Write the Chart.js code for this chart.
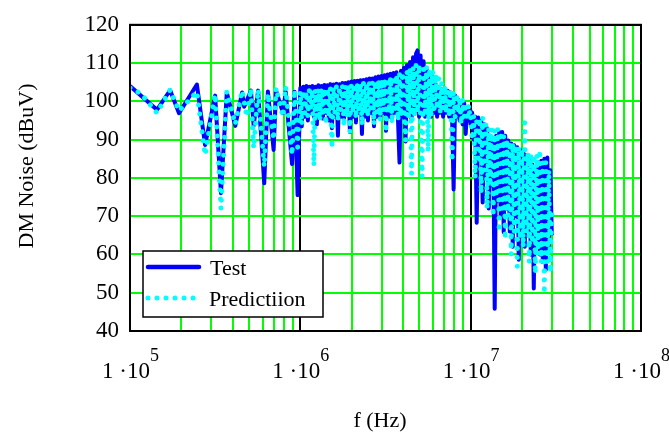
<!DOCTYPE html>
<html>
<head>
<meta charset="utf-8">
<script src="https://cdn.jsdelivr.net/npm/chart.js@4.4.1/dist/chart.umd.min.js"></script>
<style>
  html, body { margin: 0; padding: 0; background: #fff; }
  canvas { display: block; }
</style>
</head>
<body>
<canvas id="chart" width="669" height="435"></canvas>
<script>
// Frequencies in MHz, levels in dBuV
const testLowFreq = [
  0.100, 0.144, 0.172, 0.194, 0.247, 0.276, 0.316, 0.342, 0.370, 0.415, 0.455, 0.468,
  0.513, 0.532, 0.565, 0.614, 0.645, 0.697, 0.720, 0.791, 0.820, 0.894, 0.925, 0.964
];
const testLowLevel = [
  104, 97.8, 102.9, 96.9, 104.4, 88.6, 101.5, 76, 102.3, 93.6, 102.3, 98.6,
  102.8, 93.6, 102.8, 78.6, 102.6, 87.3, 102.8, 97, 102.5, 83.6, 102.5, 75.5
];
const predLowFreq = [
  0.100, 0.116, 0.144, 0.172, 0.194, 0.247, 0.276, 0.316, 0.342, 0.370, 0.415, 0.455,
  0.485, 0.513, 0.532, 0.565, 0.614, 0.645, 0.697, 0.720, 0.791, 0.820, 0.894, 0.925, 0.964
];
const predLowLevel = [
  103.5, 102, 97, 103, 97.5, 102.5, 86, 101.8, 72, 102.5, 94, 102.8,
  96, 103.3, 87.8, 103, 83, 102, 90, 103.5, 96, 103.8, 86, 103, 88
];

// dense part of the spectrum, 1 - 10 MHz
const midFreq = [
  1.000, 1.020, 1.041, 1.062, 1.085, 1.107, 1.130, 1.153, 1.176, 1.201, 1.225, 1.250,
  1.276, 1.302, 1.329, 1.356, 1.384, 1.412, 1.441, 1.471, 1.501, 1.532, 1.563, 1.595,
  1.628, 1.662, 1.696, 1.730, 1.766, 1.802, 1.839, 1.877, 1.916, 1.955, 1.995, 2.036,
  2.078, 2.121, 2.164, 2.209, 2.254, 2.300, 2.347, 2.396, 2.445, 2.495, 2.546, 2.599,
  2.652, 2.707, 2.762, 2.819, 2.876, 2.936, 2.996, 3.058, 3.120, 3.184, 3.249, 3.316,
  3.384, 3.454, 3.524, 3.597, 3.670, 3.746, 3.823, 3.901, 3.981, 4.063, 4.146, 4.231,
  4.318, 4.407, 4.497, 4.590, 4.684, 4.780, 4.878, 4.979, 5.081, 5.185, 5.291, 5.400,
  5.511, 5.624, 5.739, 5.857, 5.977, 6.100, 6.226, 6.353, 6.484, 6.617, 6.752, 6.891,
  7.032, 7.177, 7.324, 7.475, 7.628, 7.785, 7.943, 8.108, 8.273, 8.444, 8.616, 8.794,
  8.973, 9.159, 9.347, 9.539, 9.733, 9.934
];
const testMidLevel = [
  103.5, 93.5, 103.8, 96, 104, 95, 103.8, 97, 104, 96, 103.8, 94,
  104.2, 96.5, 104, 95.5, 104.3, 97, 104.2, 95, 104.5, 93, 104.4, 96,
  104.6, 91, 104.5, 96, 104.8, 95, 104.8, 97, 105, 92, 105.2, 96,
  105.3, 94.5, 105.4, 97, 105.5, 91.5, 105.6, 96, 105.8, 95, 106, 97,
  106, 93.5, 106.3, 96, 106.5, 96, 106.6, 97, 106.8, 92.3, 107, 96,
  107.2, 95, 107.4, 97, 107.6, 95, 84, 108, 96, 108.8, 89.5, 109.5,
  97, 110.3, 95, 111.5, 97, 112.5, 113.3, 96, 112, 97, 110.5, 96,
  108.5, 97, 107, 96, 105.5, 97, 104.5, 96, 103.5, 97, 103.2, 96,
  103, 97, 102.8, 96, 102.3, 95, 77, 101.5, 96, 100.5, 95, 100,
  94, 99.5, 91.5, 98.5, 95, 97.5
];
const predMidLevel = [
  102.5, 94, 102.8, 97, 102.5, 96, 103, 98, 103, 83.2, 103, 96,
  103.2, 95, 103.3, 97, 103.3, 94, 103.4, 96, 103.5, 87.8, 103.6, 97,
  103.8, 95, 103.8, 97.5, 104, 93.5, 104, 96, 104.2, 92, 104.4, 97,
  104.5, 95.5, 104.6, 97, 104.6, 93.8, 104.8, 97, 104.8, 96, 105, 98,
  105, 94, 105.3, 97, 105.5, 95, 105.6, 97.5, 105.8, 92, 106, 97,
  106.2, 94.3, 106.5, 97, 106.8, 95, 107.2, 96, 107.5, 97, 89.8, 108,
  96, 108.5, 81, 109, 96, 109.5, 97, 109.5, 95, 80.3, 109.5, 97,
  109, 87, 108.5, 96, 108, 97, 107, 98, 106, 97, 105, 98,
  104, 97, 103.5, 96, 103, 84.4, 102.5, 96, 102, 97, 101, 94,
  100.5, 96, 99.5, 95, 99, 95.5
];

// 10 - 30 MHz
const highFreq = [
  10.00, 10.20, 10.41, 10.63, 10.85, 11.07, 11.30, 11.53, 11.76, 12.01, 12.25, 12.50,
  12.76, 13.02, 13.29, 13.56, 13.84, 14.12, 14.41, 14.71, 15.01, 15.32, 15.63, 15.95,
  16.28, 16.62, 16.96, 17.31, 17.66, 18.03, 18.39, 18.77, 19.16, 19.55, 19.95, 20.36,
  20.78, 21.20, 21.64, 22.08, 22.54, 23.00, 23.47, 23.96, 24.45, 24.95, 25.46, 25.99,
  26.52, 27.07, 27.62, 28.19, 28.76, 29.36, 29.96
];
const testHighLevel = [
  94, 97, 90, 96, 68.3, 95.8, 85, 95, 73.6, 94, 80, 93,
  72, 91, 78, 90, 45.8, 91, 74, 92, 70, 92, 65.8, 91,
  72, 89.8, 66, 89, 62, 88.5, 70, 88, 58.6, 87.3, 66, 87,
  62, 86, 68, 85, 60, 83.5, 51.1, 82.8, 64, 84, 60, 84.5,
  58, 85, 56, 85.3, 62, 82, 65
];
const predHighLevel = [
  96, 90, 96, 80, 95.8, 84, 95.5, 76, 95.8, 82, 95, 72,
  93, 78, 92.8, 70, 92.5, 75, 92.8, 66, 92, 72, 91, 64,
  90, 70, 89.5, 60, 89, 66, 88.5, 56.9, 88, 64, 87.5, 62,
  94.4, 66, 86.5, 58, 86, 63, 85, 55, 86, 60, 87.3, 58,
  84, 49.8, 84, 58, 82, 55.3, 72
];

const seriesNames = ["Test", "Predictiion"];
const xDecades = [1e5, 1e6, 1e7, 1e8];
const xDecadeExp = ["5", "6", "7", "8"];
const xGridSteps = [1, 2, 3, 4, 5, 6, 7, 8, 9];
const yMin = 40, yMax = 120, yStep = 10;

const SERIF = "'Liberation Serif', 'Times New Roman', serif";
const GREEN = "#00ff00";

function toPoints(freqs, levels) {
  return freqs.map((f, i) => ({ x: f * 1e6, y: levels[i] }));
}

function isDecade(v) {
  const l = Math.log10(v);
  return Math.abs(l - Math.round(l)) < 1e-6;
}

// Frame, legend, axis titles and the 1·10^n labels
const decoration = {
  id: "decoration",
  afterDatasetsDraw(chart) {
    const { ctx, chartArea: a } = chart;
    ctx.save();
    ctx.strokeStyle = "#000";
    ctx.lineWidth = 2;
    ctx.strokeRect(a.left, a.top, a.right - a.left, a.bottom - a.top);

    // Legend box
    ctx.fillStyle = "#fff";
    ctx.fillRect(143, 251, 180, 66);
    ctx.lineWidth = 1.5;
    ctx.strokeRect(143, 251, 180, 66);

    const ds = chart.data.datasets;
    ctx.lineCap = "round";
    ctx.strokeStyle = ds[0].borderColor;
    ctx.lineWidth = 4.5;
    ctx.beginPath(); ctx.moveTo(148, 267); ctx.lineTo(199, 267); ctx.stroke();

    ctx.strokeStyle = ds[1].borderColor;
    ctx.lineWidth = 5;
    ctx.setLineDash([0.01, 9]);
    ctx.beginPath(); ctx.moveTo(148, 298); ctx.lineTo(200, 298); ctx.stroke();
    ctx.setLineDash([]);

    ctx.fillStyle = "#000";
    ctx.font = "22px " + SERIF;
    ctx.textAlign = "left";
    ctx.textBaseline = "alphabetic";
    ctx.fillText(ds[0].label, 210, 275);
    ctx.fillText(ds[1].label, 209, 306);
    ctx.restore();
  },
  afterDraw(chart) {
    const { ctx, scales: { x } } = chart;
    ctx.save();
    ctx.fillStyle = "#000";
    ctx.textBaseline = "alphabetic";
    ctx.textAlign = "left";

    // x tick labels
    xDecades.forEach((v, i) => {
      const px = x.getPixelForValue(v);
      ctx.font = "23px " + SERIF;
      const base = "1 \u00b710";
      ctx.fillText(base, px - 28, 378);
      const w = ctx.measureText(base).width;
      ctx.font = "18px " + SERIF;
      ctx.fillText(xDecadeExp[i], px - 28 + w, 361);
    });

    // Axis titles
    ctx.font = "22px " + SERIF;
    ctx.textAlign = "center";
    ctx.fillText("f (Hz)", 380, 427);

    ctx.translate(27, 166);
    ctx.rotate(-Math.PI / 2);
    ctx.textBaseline = "middle";
    ctx.fillText("DM Noise (dBuV)", 0, 0);
    ctx.restore();
  }
};

function init() {
  const testFreq = testLowFreq.concat(midFreq, highFreq);
  const testLevel = testLowLevel.concat(testMidLevel, testHighLevel);
  const predFreq = predLowFreq.concat(midFreq, highFreq);
  const predLevel = predLowLevel.concat(predMidLevel, predHighLevel);

  const ctx = document.getElementById("chart").getContext("2d");
  new Chart(ctx, {
    type: "line",
    data: {
      datasets: [
        {
          label: seriesNames[0],
          data: toPoints(testFreq, testLevel),
          borderColor: "#0000ff",
          borderWidth: 4,
          borderJoinStyle: "round",
          pointRadius: 0,
          tension: 0,
          order: 1
        },
        {
          label: seriesNames[1],
          data: toPoints(predFreq, predLevel),
          borderColor: "#00ffff",
          borderWidth: 5,
          borderDash: [0.01, 9],
          borderCapStyle: "round",
          pointRadius: 0,
          tension: 0,
          order: 0
        }
      ]
    },
    options: {
      responsive: false,
      animation: false,
      devicePixelRatio: 1,
      layout: { padding: { top: 11, right: 28, left: 0, bottom: 0 } },
      plugins: {
        legend: { display: false },
        tooltip: { enabled: false }
      },
      scales: {
        x: {
          type: "logarithmic",
          min: xDecades[0],
          max: xDecades[xDecades.length - 1],
          afterBuildTicks: scale => {
            const ticks = [];
            for (let d = 0; d < xDecades.length - 1; d++) {
              xGridSteps.forEach(m => ticks.push({ value: m * xDecades[d] }));
            }
            ticks.push({ value: xDecades[xDecades.length - 1] });
            scale.ticks = ticks;
          },
          afterFit: scale => { scale.height = 104; },
          ticks: { display: false },
          grid: {
            drawTicks: false,
            lineWidth: 2,
            color: c => (c.tick && isDecade(c.tick.value) ? "#000" : GREEN)
          },
          border: { display: true, color: "#000", width: 2 }
        },
        y: {
          min: yMin,
          max: yMax,
          afterFit: scale => { scale.width = 130; },
          ticks: {
            stepSize: yStep,
            color: "#000",
            padding: 11,
            font: { family: "'Liberation Serif', serif", size: 23 }
          },
          grid: {
            drawTicks: false,
            lineWidth: 2,
            color: c => (c.tick && (c.tick.value === yMin || c.tick.value === yMax) ? "#000" : GREEN)
          },
          border: { display: true, color: "#000", width: 2 }
        }
      }
    },
    plugins: [decoration]
  });
}

document.addEventListener("DOMContentLoaded", init);
</script>
</body>
</html>
